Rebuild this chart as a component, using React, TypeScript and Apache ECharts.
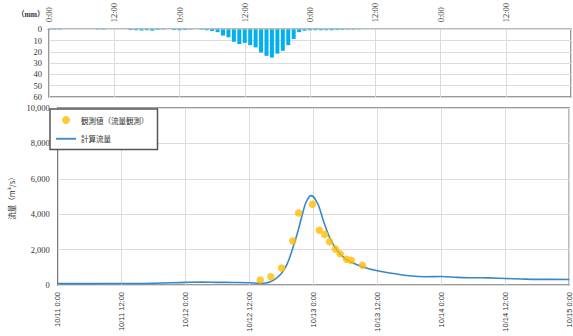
import React, { useEffect, useRef } from "react";
import * as echarts from "echarts";

const topTickLabels = ["0:00", "12:00", "0:00", "12:00", "0:00", "12:00", "0:00", "12:00"];
const bottomTickLabels = [
  "10/11 0:00", "10/11 12:00", "10/12 0:00", "10/12 12:00", "10/13 0:00",
  "10/13 12:00", "10/14 0:00", "10/14 12:00", "10/15 0:00",
];

// hourly rainfall (hours since 10/11 0:00)
const rainHours = [0, 1, 2, 9, 10, 15, 16, 17, 18, 19, 20, 21, 23, 24, 25, 26, 28, 29,
  30, 31, 32, 33, 34, 35, 36, 37, 38, 39, 40, 41, 42, 43, 44, 45, 46,
  47, 48, 49, 50, 51, 52, 53, 54, 55, 56, 57];
const rainMm = [0.4, 0.4, 0.3, 0.3, 0.3, 0.6, 0.8, 1, 0.8, 1.2, 0.5, 0.3, 0.6, 0.8, 0.6, 0.3, 0.4, 0.8,
  1.5, 2.5, 5.5, 7, 11, 13, 12, 14, 16, 20.5, 23.5, 25, 21.5, 19, 14, 8.5, 2.5,
  1.2, 0.8, 0.8, 0.8, 0.8, 0.8, 0.6, 0.5, 0.3, 0.3, 0.2];

// calculated discharge
const calcHours = [0, 6, 12, 18, 24, 27, 30, 33, 36, 38, 39, 40, 41, 42, 43, 44, 45, 46, 46.5, 47, 47.5,
  48, 48.5, 49, 50, 51, 52, 53, 54, 55, 57, 60, 63, 66, 69, 72, 75, 78, 81, 84, 87, 90, 93, 96];
const calcFlow = [80, 80, 85, 100, 150, 165, 150, 145, 130, 100, 110, 200, 380, 660, 1150, 1980, 2950, 4100, 4600, 4900, 5050,
  4980, 4750, 4450, 3500, 2700, 2150, 1760, 1480, 1300, 1050, 800, 650, 520, 470, 480, 430, 410, 400, 370, 340, 320, 320, 310];

// observed discharge
const obsHours = [38.0, 40.0, 42.0, 44.1, 45.2, 47.8, 49.1, 50.1, 51.0, 52.1, 53.0, 54.2, 55.1, 57.2];
const obsFlow = [280, 470, 960, 2490, 4070, 4560, 3090, 2860, 2450, 2030, 1770, 1450, 1390, 1110];

const serif = "'Liberation Serif', 'Noto Sans CJK JP', serif";
const sans = "'Liberation Sans', 'Noto Sans CJK JP', sans-serif";
const cjk = "'Noto Sans CJK JP', sans-serif";

export default function App() {
  const ref = useRef<HTMLDivElement>(null);
  useEffect(() => {
    if (!ref.current) return;
    const chart = echarts.init(ref.current, undefined, { renderer: "svg" });
    const split = { show: true, lineStyle: { color: "#dcdcdc", width: 1 } };
    chart.setOption({
      animation: false,
      backgroundColor: "#fff",
      grid: [
        { left: 49, right: 2, top: 29, height: 68, show: true, borderColor: "#777", borderWidth: 1.5 },
        { left: 49, right: 2, top: 108, height: 177, show: true, borderColor: "#777", borderWidth: 1.5 },
      ],
      graphic: [
        {
          type: "text", left: 17, top: 11,
          style: { text: "（mm）", font: `bold 7.5px ${serif}`, fill: "#333" },
        },
      ],
      xAxis: [
        {
          type: "value", gridIndex: 0, position: "top", min: 0, max: 96, interval: 12,
          axisLine: { show: false }, axisTick: { show: false }, splitLine: split,
          axisLabel: {
            rotate: 90, fontSize: 8.5, fontFamily: serif, color: "#333", margin: 7,
            showMaxLabel: false,
            formatter: (v: number) => topTickLabels[Math.round(v / 12)] ?? "",
          },
        },
        {
          type: "value", gridIndex: 1, min: 0, max: 96, interval: 12,
          axisLine: { show: false }, axisTick: { show: false }, splitLine: split,
          axisLabel: {
            rotate: 90, fontSize: 7.5, fontFamily: sans, color: "#333", margin: 7,
            showMaxLabel: true,
            formatter: (v: number) => bottomTickLabels[Math.round(v / 12)] ?? "",
          },
        },
      ],
      yAxis: [
        {
          type: "value", gridIndex: 0, inverse: true, min: 0, max: 60, interval: 10,
          axisLine: { show: false }, axisTick: { show: false }, splitLine: split,
          axisLabel: { fontSize: 8.5, fontFamily: serif, color: "#333", margin: 7 },
        },
        {
          type: "value", gridIndex: 1, min: 0, max: 10000, interval: 2000,
          name: "流量（m³/s）", nameLocation: "middle", nameRotate: 90, nameGap: 31,
          nameTextStyle: { fontSize: 7.5, fontFamily: cjk, color: "#333" },
          axisLine: { show: false }, axisTick: { show: false }, splitLine: split,
          axisLabel: { fontSize: 8.5, fontFamily: serif, color: "#333", margin: 8 },
        },
      ],
      legend: {
        orient: "vertical", left: 50, top: 109,
        backgroundColor: "#fff", borderColor: "#555", borderWidth: 1.5, borderRadius: 0,
        padding: [7, 9, 7, 6], itemGap: 11, itemWidth: 20, itemHeight: 8,
        textStyle: { fontSize: 7.5, fontFamily: cjk, color: "#333" },
        data: [
          { name: "観測値（流量観測）", icon: "circle" },
          { name: "計算流量", icon: "path://M0,0H20V1.8H0Z" },
        ],
      },
      series: [
        {
          name: "雨量", type: "bar", xAxisIndex: 0, yAxisIndex: 0, barWidth: 4,
          itemStyle: { color: "#00b0f0" },
          data: rainHours.map((h, i) => [h, rainMm[i]]),
        },
        {
          name: "計算流量", type: "line", xAxisIndex: 1, yAxisIndex: 1, smooth: 0.4,
          symbol: "none", lineStyle: { color: "#3a87c8", width: 1.6 }, itemStyle: { color: "#3a87c8" },
          data: calcHours.map((h, i) => [h, calcFlow[i]]), z: 2,
        },
        {
          name: "観測値（流量観測）", type: "scatter", xAxisIndex: 1, yAxisIndex: 1,
          symbolSize: 7.5, itemStyle: { color: "#ffbd00" },
          data: obsHours.map((h, i) => [h, obsFlow[i]]), z: 3,
        },
      ],
    });
    return () => chart.dispose();
  }, []);
  return <div ref={ref} style={{ width: 573, height: 336, position: "absolute", left: 0, top: 0 }} />;
}
